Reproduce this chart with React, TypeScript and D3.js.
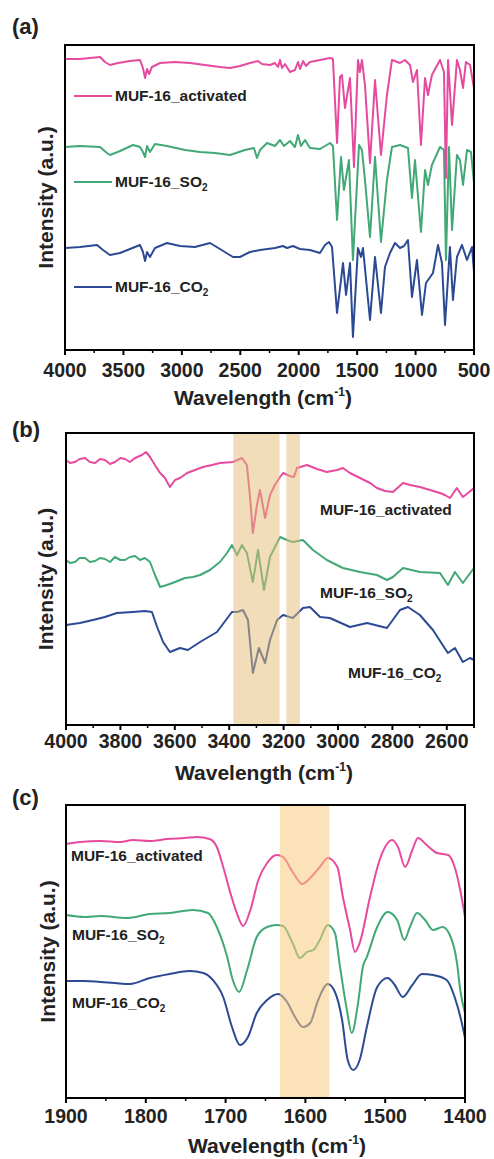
import React from 'react';
import * as d3 from 'd3';

type Pt = [number, number];

const NAMES = ['MUF-16_activated', 'MUF-16_SO2', 'MUF-16_CO2'];
const COLORS = ['#e64a9f', '#42a876', '#2c4a93'];

// (a) full range, wavenumber vs intensity (a.u., stacked)
const A_ACT: Pt[] = [
  [4000, 291], [3872, 291], [3786, 292], [3700, 293], [3658, 288], [3615, 285], [3547, 287], [3444, 289],
  [3358, 290], [3333, 282], [3315, 272], [3298, 281], [3281, 276], [3256, 283], [3187, 287], [3059, 288],
  [2930, 287], [2802, 285], [2674, 283], [2588, 282], [2503, 284], [2417, 287], [2349, 289], [2314, 286],
  [2246, 285], [2203, 287], [2177, 283], [2160, 290], [2143, 282], [2117, 286], [2075, 278], [2032, 280],
  [2006, 288], [1989, 281], [1963, 289], [1938, 284], [1904, 288], [1818, 290], [1732, 292], [1707, 291],
  [1672, 207], [1647, 273], [1630, 275], [1604, 242], [1561, 272], [1527, 183], [1493, 290], [1476, 278],
  [1459, 290], [1433, 265], [1390, 187], [1347, 270], [1296, 195], [1245, 255], [1202, 290], [1133, 287],
  [1091, 290], [1048, 285], [1022, 268], [988, 280], [954, 205], [919, 272], [894, 255], [860, 275],
  [791, 290], [757, 278], [740, 172], [722, 290], [688, 225], [646, 290], [620, 280], [594, 262],
  [569, 288], [534, 285], [500, 262],
];
const A_SO2: Pt[] = [
  [4000, 203], [3872, 204], [3700, 203], [3641, 197], [3615, 195], [3529, 199], [3418, 205], [3358, 203],
  [3333, 198], [3315, 193], [3298, 204], [3273, 198], [3230, 206], [3127, 204], [2973, 200], [2845, 198],
  [2716, 197], [2588, 195], [2460, 200], [2383, 202], [2357, 192], [2331, 200], [2271, 207], [2203, 204],
  [2160, 210], [2126, 204], [2075, 209], [2032, 203], [2006, 215], [1981, 204], [1946, 210], [1904, 202],
  [1818, 201], [1732, 207], [1707, 204], [1672, 130], [1638, 193], [1613, 160], [1570, 190], [1536, 90],
  [1484, 205], [1459, 200], [1433, 170], [1390, 113], [1347, 193], [1296, 108], [1245, 170], [1202, 203],
  [1133, 205], [1065, 202], [1031, 152], [1005, 190], [954, 118], [919, 180], [894, 165], [860, 185],
  [791, 203], [757, 200], [740, 90], [714, 203], [688, 120], [646, 195], [620, 190], [594, 165],
  [560, 200], [526, 198], [500, 167],
];
const A_CO2: Pt[] = [
  [4000, 102], [3872, 103], [3726, 105], [3675, 100], [3615, 95], [3529, 97], [3444, 101], [3358, 105],
  [3333, 98], [3315, 89], [3298, 98], [3273, 93], [3230, 102], [3127, 107], [3016, 104], [2888, 103],
  [2759, 107], [2674, 101], [2605, 96], [2562, 93], [2503, 93], [2417, 98], [2331, 100], [2203, 102],
  [2135, 104], [2100, 102], [2049, 104], [1989, 101], [1904, 100], [1818, 97], [1775, 105], [1741, 108],
  [1715, 103], [1672, 37], [1621, 87], [1595, 55], [1561, 87], [1536, 13], [1493, 102], [1467, 93],
  [1450, 102], [1390, 30], [1347, 93], [1296, 37], [1262, 83], [1219, 97], [1176, 107], [1133, 102],
  [1099, 104], [1065, 110], [1031, 53], [988, 90], [945, 35], [911, 67], [851, 77], [808, 105],
  [774, 87], [748, 25], [706, 103], [680, 50], [646, 93], [603, 105], [560, 90], [517, 103], [500, 78],
];

// (b) 4000-2500
const B_ACT: Pt[] = [
  [4000, 265], [3985, 262], [3967, 263], [3950, 266], [3930, 267], [3912, 263], [3893, 262], [3875, 266],
  [3857, 265], [3838, 261], [3820, 263], [3800, 267], [3783, 266], [3765, 263], [3746, 267], [3721, 270],
  [3706, 273], [3691, 268], [3673, 260], [3654, 252], [3636, 247], [3618, 238], [3599, 245], [3581, 247],
  [3555, 252], [3526, 255], [3496, 258], [3463, 260], [3434, 262], [3386, 263], [3353, 267], [3335, 260],
  [3324, 230], [3313, 192], [3298, 220], [3287, 235], [3268, 207], [3250, 230], [3232, 240], [3213, 248],
  [3202, 252], [3177, 249], [3162, 248], [3151, 257], [3114, 260], [3077, 256], [3041, 253], [3004, 255],
  [2982, 257], [2956, 252], [2919, 247], [2882, 242], [2857, 237], [2827, 234], [2798, 233], [2761, 242],
  [2735, 240], [2699, 238], [2662, 235], [2625, 232], [2607, 230], [2588, 227], [2563, 237], [2541, 228],
  [2522, 232], [2500, 237],
];
const B_SO2: Pt[] = [
  [4000, 165], [3985, 162], [3967, 163], [3950, 167], [3930, 167], [3912, 163], [3893, 164], [3875, 167],
  [3857, 166], [3838, 163], [3820, 168], [3800, 165], [3783, 165], [3765, 168], [3746, 169], [3728, 165],
  [3710, 167], [3691, 163], [3673, 150], [3654, 138], [3629, 140], [3599, 143], [3563, 147], [3533, 148],
  [3507, 150], [3471, 155], [3434, 163], [3408, 172], [3390, 180], [3371, 170], [3353, 180], [3335, 172],
  [3313, 143], [3294, 175], [3272, 135], [3250, 168], [3232, 178], [3213, 188], [3188, 185], [3166, 183],
  [3129, 185], [3092, 175], [3041, 165], [2982, 157], [2919, 153], [2857, 150], [2820, 145], [2798, 148],
  [2761, 157], [2699, 153], [2625, 152], [2596, 140], [2570, 153], [2541, 142], [2500, 157],
];
const B_CO2: Pt[] = [
  [4000, 100], [3949, 102], [3901, 105], [3857, 108], [3813, 112], [3754, 113], [3710, 114], [3684, 113],
  [3665, 98], [3643, 83], [3618, 73], [3581, 77], [3552, 75], [3507, 83], [3445, 93], [3390, 113],
  [3371, 113], [3349, 115], [3331, 105], [3313, 52], [3291, 77], [3268, 62], [3250, 85], [3224, 105],
  [3202, 110], [3166, 107], [3129, 117], [3103, 118], [3066, 108], [3030, 107], [2956, 98], [2893, 102],
  [2820, 97], [2772, 115], [2743, 118], [2699, 110], [2651, 95], [2596, 72], [2570, 77], [2541, 63],
  [2515, 67], [2500, 65],
];

// (c) 1900-1400
const C_ACT: Pt[] = [
  [1900, 254], [1882, 256], [1857, 257], [1832, 256], [1816, 258], [1795, 257], [1773, 259], [1751, 260],
  [1736, 261], [1720, 259], [1711, 251], [1703, 231], [1694, 205], [1686, 185], [1678, 172], [1669, 188],
  [1659, 218], [1648, 235], [1636, 243], [1628, 241], [1616, 226], [1604, 214], [1594, 220], [1582, 231],
  [1572, 240], [1560, 231], [1553, 201], [1544, 168], [1538, 146], [1532, 155], [1519, 201], [1507, 238],
  [1491, 258], [1484, 251], [1475, 231], [1466, 248], [1459, 260], [1448, 253], [1435, 245], [1421, 243],
  [1413, 231], [1406, 208], [1400, 181],
];
const C_SO2: Pt[] = [
  [1900, 183], [1876, 181], [1857, 182], [1824, 180], [1795, 184], [1770, 185], [1741, 188], [1722, 185],
  [1711, 171], [1698, 141], [1691, 118], [1683, 106], [1673, 128], [1661, 161], [1648, 171], [1636, 173],
  [1628, 172], [1616, 155], [1607, 140], [1598, 146], [1590, 148], [1582, 158], [1572, 173], [1563, 165],
  [1557, 133], [1548, 88], [1542, 65], [1534, 95], [1528, 131], [1523, 141], [1510, 171], [1497, 186],
  [1485, 178], [1476, 158], [1469, 171], [1460, 185], [1450, 178], [1440, 168], [1428, 171], [1419, 163],
  [1410, 135], [1406, 108], [1400, 85],
];
const C_CO2: Pt[] = [
  [1900, 117], [1876, 117], [1857, 116], [1839, 115], [1820, 114], [1795, 120], [1770, 124], [1745, 127],
  [1728, 125], [1716, 118], [1703, 101], [1692, 71], [1682, 53], [1672, 61], [1661, 85], [1648, 98],
  [1634, 104], [1623, 96], [1613, 81], [1603, 71], [1594, 75], [1584, 98], [1572, 114], [1563, 106],
  [1554, 78], [1547, 38], [1540, 28], [1532, 38], [1523, 71], [1510, 111], [1497, 120], [1488, 113],
  [1478, 101], [1466, 113], [1454, 124], [1440, 123], [1423, 118], [1413, 101], [1404, 75], [1400, 60],
];

const A_TICKS = [4000, 3500, 3000, 2500, 2000, 1500, 1000, 500];
const B_TICKS = [4000, 3800, 3600, 3400, 3200, 3000, 2800, 2600];
const C_TICKS = [1900, 1800, 1700, 1600, 1500, 1400];
const B_BANDS: Pt[] = [[3385, 3215], [3190, 3140]];
const C_BANDS: Pt[] = [[1632, 1570]];

const FONT = "'Liberation Sans', Arial, Helvetica, sans-serif";
const INK = '#222';

const Name = ({ name }: { name: string }) => {
  if (name.endsWith('O2')) {
    return (
      <>
        {name.slice(0, -1)}
        <tspan fontSize={10} dy={4}>2</tspan>
      </>
    );
  }
  return <>{name}</>;
};

type PanelProps = {
  tag: string;
  tagY: number;
  left: number;
  right: number;
  top: number;
  bottom: number;
  domain: [number, number];
  yMax: number;
  ticks: number[];
  minorStep: number;
  series: Pt[][];
  smooth?: boolean;
  bands?: Pt[];
  bandColor?: string;
  bandOpacity?: number;
  tickBase: number;
  titleX: number;
  yTitleX: number;
  labels: { x: number; y: number; line?: boolean }[];
};

const Panel = (p: PanelProps) => {
  const x = d3.scaleLinear().domain(p.domain).range([p.left, p.right]);
  const y = d3.scaleLinear().domain([0, p.yMax]).range([p.bottom, p.top]);
  const line = d3
    .line<Pt>()
    .x((d) => x(d[0]))
    .y((d) => y(d[1]))
    .curve(p.smooth ? d3.curveMonotoneX : d3.curveLinear);
  const minor = d3
    .range(p.domain[0], p.domain[1] - 1e-6, -p.minorStep)
    .concat([p.domain[1]])
    .filter((v) => !p.ticks.includes(v));
  const midY = (p.top + p.bottom) / 2;
  const order = [2, 1, 0];
  return (
    <g fontFamily={FONT} fontWeight="bold" fill={INK}>
      <text x={12} y={p.tagY} fontSize={22}>{p.tag}</text>
      {order.map((i) => (
        <path key={i} d={line(p.series[i]) || ''} fill="none" stroke={COLORS[i]} strokeWidth={2} strokeLinejoin="round" />
      ))}
      {(p.bands || []).map((b, i) => (
        <rect
          key={i}
          x={x(b[0])}
          width={x(b[1]) - x(b[0])}
          y={p.top}
          height={p.bottom - p.top}
          fill={p.bandColor}
          fillOpacity={p.bandOpacity}
        />
      ))}
      <rect x={p.left} y={p.top} width={p.right - p.left} height={p.bottom - p.top} fill="none" stroke="#000" strokeWidth={2} />
      {p.ticks.map((t) => (
        <g key={t}>
          <line x1={x(t)} x2={x(t)} y1={p.bottom} y2={p.bottom + 5} stroke="#000" strokeWidth={2} />
          <text x={x(t)} y={p.tickBase} fontSize={19.5} textAnchor="middle">{t}</text>
        </g>
      ))}
      {minor.map((t) => (
        <line key={t} x1={x(t)} x2={x(t)} y1={p.bottom} y2={p.bottom + 3} stroke="#000" strokeWidth={1.5} />
      ))}
      <text x={p.titleX} y={p.bottom + 55} fontSize={21} textAnchor="middle">
        Wavelength (cm<tspan fontSize={12} dy={-9}>-1</tspan><tspan dy={9}>)</tspan>
      </text>
      <text transform={`translate(${p.yTitleX},${midY}) rotate(-90)`} fontSize={21} textAnchor="middle">
        Intensity (a.u.)
      </text>
      {p.labels.map((l, i) => (
        <g key={i}>
          {l.line && <line x1={l.x - 41} x2={l.x - 3} y1={l.y - 5} y2={l.y - 5} stroke={COLORS[i]} strokeWidth={2} />}
          <text x={l.x} y={l.y} fontSize={15.5}>
            <Name name={NAMES[i]} />
          </text>
        </g>
      ))}
    </g>
  );
};

const App = () => {
  return (
    <svg width={494} height={1159} style={{ position: 'absolute', left: 0, top: 0, background: '#fff' }}>
      <Panel
        tag="(a)" tagY={34}
        left={65} right={474} top={45} bottom={350}
        domain={[4000, 500]} yMax={305}
        ticks={A_TICKS} minorStep={250}
        series={[A_ACT, A_SO2, A_CO2]}
        tickBase={377} titleX={263} yTitleX={53}
        labels={[{ x: 115, y: 101, line: true }, { x: 115, y: 187, line: true }, { x: 115, y: 292, line: true }]}
      />
      <Panel
        tag="(b)" tagY={437}
        left={66} right={474} top={433} bottom={725}
        domain={[4000, 2500]} yMax={292}
        ticks={B_TICKS} minorStep={100}
        series={[B_ACT, B_SO2, B_CO2]}
        bands={B_BANDS} bandColor="rgb(228,188,118)" bandOpacity={0.5}
        tickBase={748} titleX={264} yTitleX={53}
        labels={[{ x: 320, y: 515 }, { x: 320, y: 598 }, { x: 348, y: 678 }]}
      />
      <Panel
        tag="(c)" tagY={805}
        left={66} right={465} top={805} bottom={1098}
        domain={[1900, 1400]} yMax={293}
        ticks={C_TICKS} minorStep={50}
        series={[C_ACT, C_SO2, C_CO2]} smooth
        bands={C_BANDS} bandColor="rgb(250,202,125)" bandOpacity={0.55}
        tickBase={1123} titleX={277} yTitleX={55}
        labels={[{ x: 71, y: 861 }, { x: 72, y: 940 }, { x: 72, y: 1008 }]}
      />
    </svg>
  );
};

export default App;
